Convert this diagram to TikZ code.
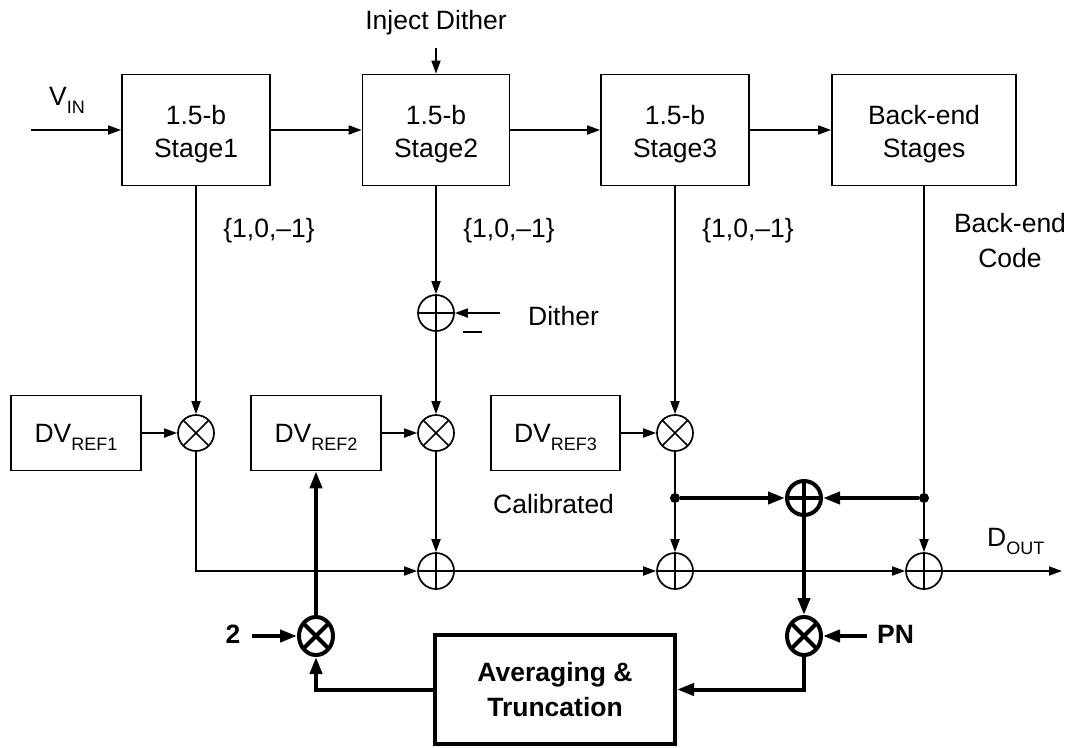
\documentclass[tikz,border=0pt]{standalone}
\usepackage{fontspec}
\setmainfont{Liberation Sans}
\usetikzlibrary{arrows.meta,shapes.geometric,calc}
\newcommand\lowsub[1]{\raisebox{-8.5pt}{\fontsize{18}{18}\selectfont #1}}
\newcommand\topstrut{\rule{0pt}{27pt}}
\begin{document}
\begin{tikzpicture}[x=1pt,y=-1pt,
  every node/.style={font=\fontsize{26.5}{33}\selectfont},
  blk/.style={draw,line width=1.8pt,inner sep=0pt,align=center,minimum height=111pt},
  dvbox/.style={draw,line width=1.7pt,inner sep=0pt,minimum width=130pt,minimum height=75pt,text depth=0pt},
  lbl/.style={inner sep=0pt},
  bld/.style={inner sep=0pt,font=\fontsize{26.5}{35}\selectfont\bfseries},
  thinln/.style={line width=1.7pt},
  thickln/.style={line width=4pt},
  arr/.style={thinln,-{Triangle[length=13pt,width=9pt]}},
  tarr/.style={thickln,-{Triangle[length=17pt,width=12pt]}},
  xcross/.style={path picture={\draw[line width=#1]
      ([shift={(-30pt,-30pt)}]path picture bounding box.center) -- ([shift={(30pt,30pt)}]path picture bounding box.center)
      ([shift={(-30pt,30pt)}]path picture bounding box.center) -- ([shift={(30pt,-30pt)}]path picture bounding box.center);}},
  pcross/.style={path picture={\draw[line width=#1]
      (path picture bounding box.north) -- (path picture bounding box.south)
      (path picture bounding box.west) -- (path picture bounding box.east);}},
  tmul/.style={circle,draw,line width=1.7pt,minimum size=36pt,inner sep=0pt,xcross=1.7pt},
  tsum/.style={circle,draw,line width=1.7pt,minimum size=36pt,inner sep=0pt,pcross=1.7pt},
  bsumst/.style={circle,draw,line width=4pt,minimum size=34pt,inner sep=0pt,pcross=4pt},
  bmul/.style={ellipse,draw,line width=4pt,minimum width=34pt,minimum height=38pt,inner sep=0pt,xcross=4pt},
  dot/.style={circle,fill,minimum size=10pt,inner sep=0pt}
]
\useasboundingbox (0,0) rectangle (1075,747);

% top row blocks
\node[blk,minimum width=148pt] (s1) at (196,130) {\topstrut 1.5-b\\Stage1};
\node[blk,minimum width=147pt] (s2) at (436,130) {\topstrut 1.5-b\\Stage2};
\node[blk,minimum width=148pt] (s3) at (675,130) {\topstrut 1.5-b\\Stage3};
\node[blk,minimum width=184pt] (be) at (924,130) {\topstrut Back-end\\Stages};

\coordinate (vin) at (31,130);
\node[lbl,anchor=base west] (vinl) at (49,105) {V\lowsub{IN}};
\node[lbl,anchor=base] (injl) at (436,29) {Inject Dither};
\coordinate (inj) at (436,48);

\node[lbl,anchor=base] (c1) at (269,237) {\{1,0,--1\}};
\node[lbl,anchor=base] (c2) at (509,237) {\{1,0,--1\}};
\node[lbl,anchor=base] (c3) at (748,237) {\{1,0,--1\}};
\node[lbl,anchor=north,align=center,font=\fontsize{26.5}{35}\selectfont] (bec) at (1010,213) {Back-end\\Code};

% dither summer
\node[tsum] (dsum) at (436,313) {};
\coordinate (dith) at (500,313);
\node[lbl,anchor=base west] (dithl) at (528,325) {Dither};
\draw[thinln] (463,332) -- (482,332);

% DVREF blocks and multipliers
\node[dvbox] (d1) at (76,433) {DV\lowsub{REF1}};
\node[dvbox] (d2) at (316,433) {DV\lowsub{REF2}};
\node[dvbox,minimum width=129pt] (d3) at (555.5,433) {DV\lowsub{REF3}};
\node[tmul] (m1) at (196,433) {};
\node[tmul] (m2) at (436,433) {};
\node[tmul] (m3) at (675,433) {};
\node[lbl,anchor=base west] (cal) at (493,513) {Calibrated};

% junctions and big summer
\node[dot] (j1) at (675,498) {};
\node[dot] (j2) at (924,498) {};
\node[bsumst] (bs) at (804,498) {};

% sum row
\node[tsum] (a1) at (436,571) {};
\node[tsum] (a2) at (675,571) {};
\node[tsum] (a3) at (924,571) {};
\coordinate (dout) at (1062,571);
\node[lbl,anchor=base west] (doutl) at (987,546) {D\lowsub{OUT}};

% bottom feedback
\node[bmul] (mx2) at (316,636) {};
\node[bmul] (mpn) at (804,636) {};
\node[bld,anchor=base] (two) at (233,643) {2};
\coordinate (twoc) at (252,636);
\node[bld,anchor=base west] (pn) at (877,643) {PN};
\coordinate (pnc) at (867,636);
\node[draw,line width=4pt,minimum width=240pt,minimum height=109pt,inner sep=0pt,align=center,
      font=\fontsize{26.5}{35}\selectfont\bfseries] (avg) at (555,689.5) {Averaging \&\\Truncation};

% connectors top
\draw[arr] (vin) -- (s1);
\draw[arr] (s1) -- (s2);
\draw[arr] (s2) -- (s3);
\draw[arr] (s3) -- (be);
\draw[arr] (inj) -- (s2);

\draw[arr] (s1) -- (m1);
\draw[arr] (s2) -- (dsum);
\draw[arr] (dith) -- (dsum);
\draw[arr] (dsum) -- (m2);
\draw[arr] (s3) -- (m3);

\draw[arr] (d1) -- (m1);
\draw[arr] (d2) -- (m2);
\draw[arr] (d3) -- (m3);

\draw[arr] (m1.south) |- (a1.west);
\draw[arr] (m2) -- (a1);
\draw[thinln] (m3) -- (j1);
\draw[arr] (j1) -- (a2);
\draw[thinln] (be) -- (j2);
\draw[arr] (j2) -- (a3);
\draw[arr] (a1) -- (a2);
\draw[arr] (a2) -- (a3);
\draw[arr] (a3) -- (dout);

% thick calibration loop
\draw[tarr] (j1) -- (bs);
\draw[tarr] (j2) -- (bs);
\draw[tarr] (bs) -- (mpn);
\draw[tarr] (pnc) -- (mpn);
\draw[tarr] (mpn.south) |- (avg.east);
\draw[tarr] (avg.west) -| (mx2.south);
\draw[tarr] (twoc) -- (mx2);
\draw[tarr] (mx2) -- (d2);
\end{tikzpicture}
\end{document}
